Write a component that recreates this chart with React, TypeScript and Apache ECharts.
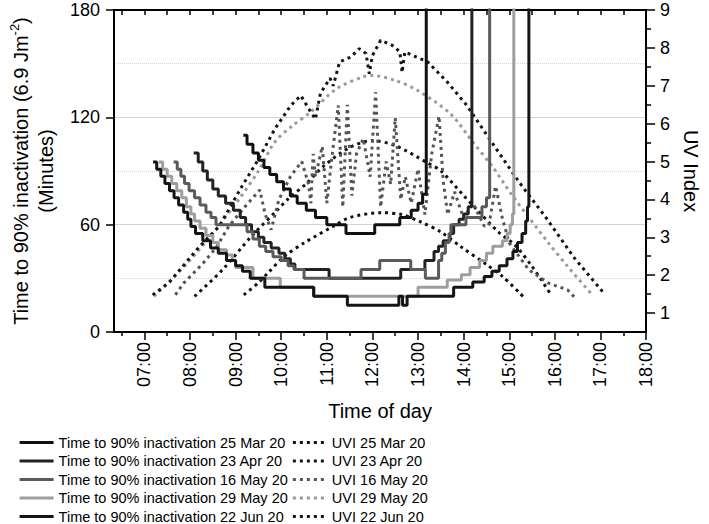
import React, { useEffect, useRef } from 'react';
import * as echarts from 'echarts';

const FONT = '"Liberation Sans", Arial, Helvetica, sans-serif';

// Axis tick positions (hours of day / UV index)
const HOUR_TICKS = [7, 8, 9, 10, 11, 12, 13, 14, 15, 16, 17, 18];
const HALF_HOUR_TICKS = [6.5, 7.5, 8.5, 9.5, 10.5, 11.5, 12.5, 13.5, 14.5, 15.5, 16.5, 17.5];
const TOP_TICKS = [6.5, 7, 7.5, 8, 8.5, 9, 9.5, 10, 10.5, 11, 11.5, 12, 12.5, 13, 13.5, 14, 14.5, 15, 15.5, 16, 16.5, 17, 17.5];
const UV_TICKS = [1, 2, 3, 4, 5, 6, 7, 8, 9];
const UV_MINOR_TICKS = [1.5, 2.5, 3.5, 4.5, 5.5, 6.5, 7.5, 8.5];

// Time to 90% inactivation (minutes) vs time of day (hours)
const INACT_25MAR = [[9.17, 110], [9.25, 105], [9.38, 100], [9.5, 96], [9.62, 92], [9.75, 88], [9.9, 84], [10.05, 80], [10.2, 76], [10.35, 72], [10.55, 68], [10.75, 64], [11.0, 60], [11.42, 55], [12.05, 60], [12.6, 64], [12.85, 68], [13.0, 72], [13.1, 77], [13.18, 400]];
const INACT_23APR = [[8.08, 100], [8.18, 95], [8.28, 90], [8.38, 85], [8.5, 80], [8.62, 76], [8.78, 72], [8.95, 68], [9.1, 64], [9.22, 60], [9.35, 56], [9.5, 53], [9.62, 50], [9.78, 47], [9.95, 44], [10.08, 41], [10.2, 38], [10.3, 35], [11.05, 30], [12.62, 35], [13.15, 40], [13.35, 45], [13.45, 48], [13.55, 51], [13.7, 55], [13.78, 60], [13.9, 63], [14.0, 66], [14.1, 70], [14.18, 400]];
const INACT_16MAY = [[7.64, 95], [7.72, 91], [7.8, 87], [7.88, 83], [7.98, 79], [8.1, 75], [8.22, 71], [8.35, 67], [8.46, 64], [8.57, 60], [9.25, 56], [9.38, 52], [9.52, 48], [9.66, 45], [9.82, 42], [10.0, 40], [10.15, 37], [10.28, 35], [10.5, 30], [11.75, 35], [12.16, 40], [12.84, 35], [13.16, 30], [13.45, 40], [13.52, 44], [13.6, 50], [13.68, 55], [13.72, 60], [14.05, 64], [14.4, 70], [14.5, 75], [14.57, 400]];
const INACT_29MAY = [[7.32, 95], [7.4, 91], [7.5, 87], [7.6, 83], [7.71, 79], [7.82, 75], [7.92, 70], [8.02, 66], [8.1, 62], [8.22, 58], [8.35, 54], [8.5, 50], [8.62, 46], [8.8, 43], [8.93, 40], [9.0, 36], [9.38, 30], [9.98, 25], [10.72, 20], [13.0, 25], [13.64, 29], [13.95, 32], [14.14, 36], [14.35, 40], [14.5, 44], [14.64, 48], [14.85, 51], [14.95, 55], [15.02, 60], [15.07, 66], [15.1, 400]];
const INACT_22JUN = [[7.19, 95], [7.27, 91], [7.36, 87], [7.45, 83], [7.55, 79], [7.65, 75], [7.75, 71], [7.86, 67], [7.95, 63], [8.02, 59], [8.12, 55], [8.28, 51], [8.45, 47], [8.62, 44], [8.8, 40], [9.0, 37], [9.15, 34], [9.32, 30], [9.64, 25], [10.71, 20], [11.45, 15], [12.58, 20], [12.66, 15], [12.76, 20], [13.78, 25], [14.2, 28], [14.45, 31], [14.62, 34], [14.78, 37], [14.95, 41], [15.08, 45], [15.18, 50], [15.28, 55], [15.36, 62], [15.4, 70], [15.43, 400]];

// UV index vs time of day (hours)
const UVI_25MAR = [[9.18, 1.48], [9.5, 1.8], [9.71, 2.06], [10.07, 2.5], [10.5, 2.85], [11.14, 3.29], [11.5, 3.52], [12.2, 3.65], [12.64, 3.6], [13.07, 3.4], [13.5, 3.14], [13.93, 2.76], [14.5, 2.28], [14.85, 1.97], [15.3, 1.44]];
const UVI_23APR = [[8.1, 1.44], [8.71, 2.14], [9.35, 3.03], [9.93, 3.74], [10.14, 4.0], [10.57, 4.44], [10.93, 4.88], [11.5, 5.37], [12.0, 5.55], [12.5, 5.42], [13.2, 4.97], [13.5, 4.75], [14.0, 4.1], [14.28, 3.74], [14.78, 3.12], [15.12, 2.8], [15.5, 2.23], [15.89, 1.53]];
const UVI_16MAY = [[7.68, 1.48], [7.86, 1.79], [8.29, 2.32], [8.57, 2.72], [8.85, 3.29], [9.2, 3.8], [9.53, 4.25], [9.65, 3.6], [9.78, 3.2], [9.95, 4.0], [10.2, 4.6], [10.45, 5.0], [10.6, 4.4], [10.65, 3.9], [10.7, 5.2], [10.75, 4.6], [10.9, 5.4], [11.0, 3.9], [11.1, 5.0], [11.25, 6.48], [11.35, 3.8], [11.45, 6.5], [11.55, 4.1], [11.65, 5.2], [11.8, 5.6], [11.95, 4.6], [12.07, 6.83], [12.18, 3.8], [12.3, 5.0], [12.4, 4.4], [12.5, 6.15], [12.62, 4.0], [12.72, 4.6], [12.85, 3.9], [13.0, 4.8], [13.15, 3.6], [13.3, 5.2], [13.46, 6.2], [13.55, 4.5], [13.65, 3.6], [13.8, 4.2], [14.0, 3.5], [14.2, 3.9], [14.45, 3.3], [14.55, 3.3], [14.7, 4.35], [14.85, 3.5], [15.0, 2.85], [15.43, 2.14], [15.86, 1.79], [16.28, 1.61], [16.43, 1.42]];
const UVI_29MAY = [[7.21, 1.44], [7.6, 1.9], [7.93, 2.3], [8.5, 3.1], [9.07, 4.0], [9.5, 4.75], [9.85, 5.5], [10.25, 5.95], [10.64, 6.3], [11.21, 6.92], [11.78, 7.23], [12.0, 7.27], [12.5, 7.14], [13.0, 6.87], [13.71, 6.26], [14.21, 5.5], [14.64, 4.85], [15.07, 4.1], [15.86, 2.85], [16.28, 2.23], [16.82, 1.48]];
const UVI_22JUN = [[7.18, 1.48], [7.53, 1.79], [7.93, 2.36], [8.18, 2.72], [8.64, 3.29], [9.14, 4.35], [9.5, 5.06], [9.86, 5.86], [10.21, 6.48], [10.43, 6.74], [10.6, 6.4], [10.75, 6.12], [10.86, 6.8], [11.07, 7.2], [11.14, 7.0], [11.28, 7.63], [11.53, 7.76], [11.71, 7.98], [11.86, 7.85], [11.93, 7.32], [12.0, 7.8], [12.18, 8.2], [12.43, 8.07], [12.6, 7.9], [12.65, 7.35], [12.71, 7.89], [13.21, 7.63], [13.64, 7.1], [14.07, 6.48], [14.57, 5.59], [15.07, 4.71], [15.28, 4.35], [15.78, 3.56], [16.43, 2.45], [17.07, 1.53]];

const INACT_SERIES = [
  { name: 'Time to 90% inactivation 25 Mar 20', data: INACT_25MAR, color: '#111111' },
  { name: 'Time to 90% inactivation 23 Apr 20', data: INACT_23APR, color: '#222222' },
  { name: 'Time to 90% inactivation 16 May 20', data: INACT_16MAY, color: '#5a5a5a' },
  { name: 'Time to 90% inactivation 29 May 20', data: INACT_29MAY, color: '#9e9e9e' },
  { name: 'Time to 90% inactivation 22 Jun 20', data: INACT_22JUN, color: '#151515' },
];
const UVI_SERIES = [
  { name: 'UVI 25 Mar 20', data: UVI_25MAR, color: '#111111', smooth: 0.3 },
  { name: 'UVI 23 Apr 20', data: UVI_23APR, color: '#151515', smooth: 0.3 },
  { name: 'UVI 16 May 20', data: UVI_16MAY, color: '#555555', smooth: 0 },
  { name: 'UVI 29 May 20', data: UVI_29MAY, color: '#9a9a9a', smooth: 0.3 },
  { name: 'UVI 22 Jun 20', data: UVI_22JUN, color: '#151515', smooth: 0 },
];

const X_MIN = 6 + 1 / 3;
const X_MAX = 18;

function hourLabel(v: number) {
  const h = Math.round(v);
  return (h < 10 ? '0' + h : '' + h) + ':00';
}

export default function App() {
  const ref = useRef<HTMLDivElement>(null);
  useEffect(() => {
    if (!ref.current) return;
    const chart = echarts.init(ref.current, undefined, { renderer: 'svg' });
    const series: any[] = [];
    UVI_SERIES.forEach((s) => {
      series.push({
        name: s.name,
        type: 'line',
        xAxisIndex: 0,
        yAxisIndex: 1,
        data: s.data,
        symbol: 'none',
        smooth: s.smooth,
        z: 2,
        lineStyle: { color: s.color, width: 3, type: [3, 4] },
        itemStyle: { color: s.color, opacity: 0 },
      });
    });
    INACT_SERIES.forEach((s) => {
      series.push({
        name: s.name,
        type: 'line',
        xAxisIndex: 0,
        yAxisIndex: 0,
        data: s.data,
        step: 'end',
        symbol: 'none',
        z: 3,
        lineStyle: { color: s.color, width: 3, type: 'solid' },
        itemStyle: { color: s.color, opacity: 0 },
      });
    });
    const axisLine = { show: true, lineStyle: { color: '#000', width: 2 } };
    chart.setOption({
      animation: false,
      backgroundColor: '#fff',
      textStyle: { fontFamily: FONT, color: '#000' },
      grid: { left: 106, right: 59, top: 10, bottom: 192 },
      legend: {
        data: [...INACT_SERIES.map((s) => s.name), ...UVI_SERIES.map((s) => s.name)],
        orient: 'vertical',
        left: 18,
        top: 435,
        height: 92,
        padding: 0,
        itemWidth: 34,
        itemHeight: 14,
        itemGap: 3.5,
        selectedMode: false,
        itemStyle: { opacity: 0, borderWidth: 0 },
        lineStyle: { width: 3.2 },
        textStyle: { fontSize: 14.5, color: '#000', fontFamily: FONT },
      },
      xAxis: [
        {
          type: 'value', position: 'bottom', min: X_MIN, max: X_MAX,
          axisLine,
          axisTick: { show: true, inside: false, length: 8, lineStyle: { color: '#000', width: 1.5 }, customValues: HOUR_TICKS },
          axisLabel: { show: true, customValues: HOUR_TICKS, rotate: 90, margin: 10, fontSize: 18, color: '#000', fontFamily: FONT, formatter: hourLabel },
          splitLine: { show: false },
          name: 'Time of day', nameLocation: 'middle', nameGap: 69,
          nameTextStyle: { fontSize: 20, color: '#000', fontFamily: FONT },
        },
        {
          type: 'value', position: 'bottom', min: X_MIN, max: X_MAX,
          axisLine: { show: false },
          axisTick: { show: true, inside: false, length: 4, lineStyle: { color: '#000', width: 1.5 }, customValues: HALF_HOUR_TICKS },
          axisLabel: { show: false },
          splitLine: { show: false },
        },
        {
          type: 'value', position: 'top', min: X_MIN, max: X_MAX,
          axisLine,
          axisTick: { show: true, inside: true, length: 5, lineStyle: { color: '#000', width: 1.5 }, customValues: TOP_TICKS },
          axisLabel: { show: false },
          splitLine: { show: false },
        },
      ],
      yAxis: [
        {
          type: 'value', position: 'left', min: 0, max: 180, interval: 60,
          axisLine,
          axisTick: { show: true, inside: false, length: 8, lineStyle: { color: '#000', width: 1.5 } },
          axisLabel: { fontSize: 18, margin: 14, color: '#000', fontFamily: FONT },
          splitLine: { show: true, lineStyle: { color: '#d4d4d4', width: 1 } },
          minorTick: { show: false, splitNumber: 2 },
          minorSplitLine: { show: true, lineStyle: { color: '#d4d4d4', width: 1, type: [1, 1] } },
          name: 'Time to 90% inactivation (6.9 Jm{sup|-2})\n(Minutes)',
          nameLocation: 'middle', nameGap: 56,
          nameTextStyle: {
            fontSize: 20, lineHeight: 25, color: '#000', fontFamily: FONT, align: 'center',
            rich: { sup: { fontSize: 13, lineHeight: 13, verticalAlign: 'top', color: '#000', fontFamily: FONT } },
          },
        },
        {
          type: 'value', position: 'right', min: 0.5, max: 9,
          axisLine,
          axisTick: { show: true, inside: false, length: 9, lineStyle: { color: '#000', width: 1.5 }, customValues: UV_TICKS },
          axisLabel: { show: true, customValues: UV_TICKS, fontSize: 18, margin: 14, color: '#000', fontFamily: FONT },
          splitLine: { show: false },
          name: 'UV Index', nameLocation: 'middle', nameGap: 34, nameRotate: -90,
          nameTextStyle: { fontSize: 20, color: '#000', fontFamily: FONT },
        },
        {
          type: 'value', position: 'right', min: 0.5, max: 9,
          axisLine: { show: false },
          axisTick: { show: true, inside: false, length: 5, lineStyle: { color: '#000', width: 1.5 }, customValues: UV_MINOR_TICKS },
          axisLabel: { show: false },
          splitLine: { show: false },
        },
      ],
      series,
    });
    return () => chart.dispose();
  }, []);
  return <div ref={ref} style={{ position: 'absolute', left: 0, top: 0, width: 709, height: 524 }} />;
}
